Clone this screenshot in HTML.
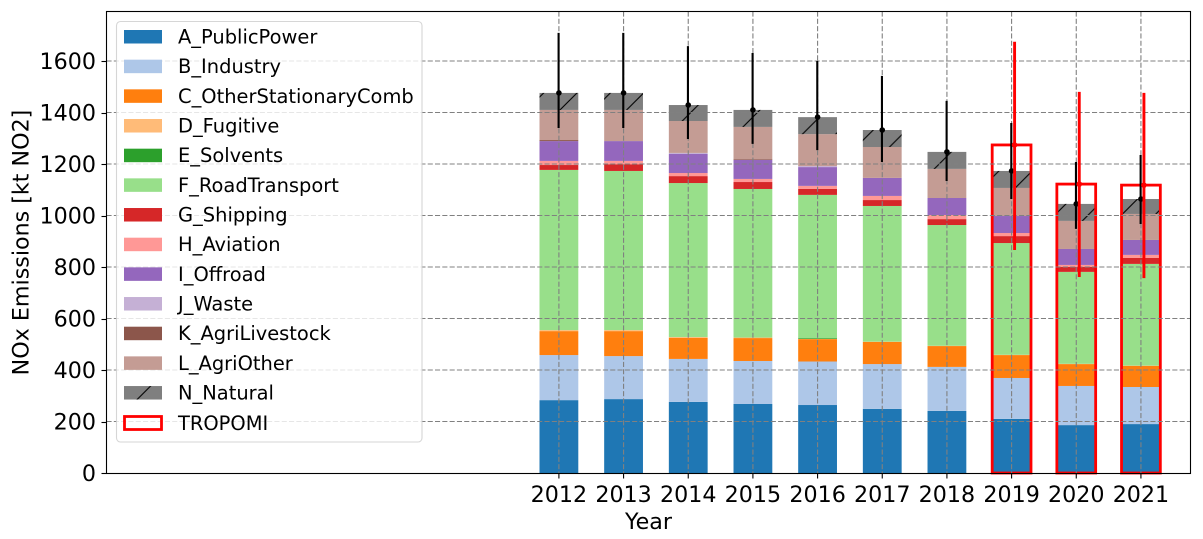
<!DOCTYPE html>
<html>
<head>
<meta charset="utf-8">
<title>NOx Emissions</title>
<style>
html,body{margin:0;padding:0;background:#fff;width:1203px;height:539px;overflow:hidden}
svg{display:block}
text{font-family:"DejaVu Sans","Liberation Sans",sans-serif;fill:#000}
</style>
</head>
<body>
<svg id="chart" width="1203" height="539" viewBox="0 0 1203 539" xmlns="http://www.w3.org/2000/svg">
<defs>
<pattern id="hatch" patternUnits="userSpaceOnUse" width="33.33" height="33.33" patternTransform="translate(3.33,0)">
<line x1="-1" y1="34.33" x2="34.33" y2="-1" stroke="#000" stroke-width="1.1"/>
<line x1="-1" y1="1" x2="1" y2="-1" stroke="#000" stroke-width="1.1"/>
<line x1="32.33" y1="34.33" x2="34.33" y2="32.33" stroke="#000" stroke-width="1.1"/>
</pattern>
</defs>
<text transform="translate(28.5,242.5) rotate(-90)" text-anchor="middle" font-size="22.2">NOx Emissions [kt NO2]</text>
<text x="648.5" y="529" text-anchor="middle" font-size="22.2">Year</text>
</svg>
<script>
const years = [2012, 2013, 2014, 2015, 2016, 2017, 2018, 2019, 2020, 2021];
const yTicks = [0, 200, 400, 600, 800, 1000, 1200, 1400, 1600];

const aPublicPower = [283, 287, 276, 268, 264, 249, 241, 210, 186, 190];
const bIndustry = [175, 167, 167, 167, 169, 174, 171, 159, 152, 144];
const cOtherStationaryComb = [93, 97, 82, 89, 87, 86, 81, 89, 85, 82];
const dFugitive = [4, 4, 3, 2, 1, 1, 1, 1, 1, 1];
const eSolvents = [0, 0, 0, 0, 3, 0, 0, 0, 0, 0];
const fRoadTransport = [622, 618, 598, 577, 556, 527, 469, 434, 357, 395];
const gShipping = [19, 26, 27, 27, 23, 23, 23, 27, 19, 23];
const hAviation = [16, 13, 12, 12, 12, 16, 16, 12, 8, 12];
const iOffroad = [77, 77, 74, 74, 73, 70, 66, 66, 62, 58];
const jWaste = [0, 0, 4, 0, 4, 0, 0, 0, 0, 0];
const kAgriLivestock = [4, 0, 0, 3, 0, 0, 0, 0, 0, 0];
const lAgriOther = [117, 121, 124, 125, 124, 120, 113, 109, 109, 101];
const nNatural = [66, 66, 62, 66, 66, 66, 66, 66, 66, 58];

const errLow = [1340, 1340, 1297, 1278, 1254, 1208, 1134, 1064, 948, 967];
const errHigh = [1709, 1709, 1658, 1631, 1600, 1542, 1445, 1359, 1208, 1235];

const tropomiYears = [2019, 2020, 2021];
const tropomiValues = [1274, 1122, 1118];
const tropomiLow = [866, 761, 757];
const tropomiHigh = [1675, 1480, 1476];

const sectorNames = ['A_PublicPower', 'B_Industry', 'C_OtherStationaryComb', 'D_Fugitive', 'E_Solvents', 'F_RoadTransport', 'G_Shipping', 'H_Aviation', 'I_Offroad', 'J_Waste', 'K_AgriLivestock', 'L_AgriOther', 'N_Natural'];
const sectorColors = ['#1f77b4', '#aec7e8', '#ff7f0e', '#ffbb78', '#2ca02c', '#98df8a', '#d62728', '#ff9896', '#9467bd', '#c5b0d5', '#8c564b', '#c49c94', '#7f7f7f'];
const sectorValues = [aPublicPower, bIndustry, cOtherStationaryComb, dFugitive, eSolvents, fRoadTransport, gShipping, hAviation, iOffroad, jWaste, kAgriLivestock, lAgriOther, nNatural];

const svg = document.getElementById('chart');
const NS = 'http://www.w3.org/2000/svg';
const AX = {l: 106.5, r: 1190.5, t: 11.5, b: 473.5};
const xScale = function (yr) { return 558.9 + (yr - 2012) * 64.67; };
const yScale = function (v) { return 473 - v * 0.2575; };
const barWidth = 0.6 * 64.67;

function mk(tag, attrs) {
  const el = document.createElementNS(NS, tag);
  for (const k in attrs) el.setAttribute(k, attrs[k]);
  svg.appendChild(el);
  return el;
}

// stacked bars
years.forEach(function (yr, i) {
  let base = 0;
  sectorValues.forEach(function (vals, s) {
    const v = vals[i];
    if (v <= 0) return;
    const top = base + v;
    const r = mk('rect', {x: xScale(yr) - barWidth / 2, y: yScale(top), width: barWidth, height: yScale(base) - yScale(top), fill: sectorColors[s]});
    
    
    if (s === sectorNames.length - 1) {
      const h = mk('rect', {x: xScale(yr) - barWidth / 2, y: yScale(top), width: barWidth, height: yScale(base) - yScale(top), fill: 'url(#hatch)'});
      
      
    }
    base = top;
  });
});

// TROPOMI outline boxes
tropomiYears.forEach(function (yr, i) {
  const b = mk('rect', {x: xScale(yr) - barWidth / 2, y: yScale(tropomiValues[i]), width: barWidth, height: yScale(0) - yScale(tropomiValues[i]), fill: 'none', stroke: '#ff0000', 'stroke-width': 2.8});
  
  
});

// gridlines
yTicks.forEach(function (t) {
  if (t === 0) return;
  const g = mk('line', {x1: AX.l, x2: AX.r, y1: yScale(t), y2: yScale(t), stroke: '#808080', 'stroke-width': 1.1, 'stroke-dasharray': '5.1,2.2'});
  
  
});
years.forEach(function (yr) {
  const g = mk('line', {x1: xScale(yr), x2: xScale(yr), y1: AX.t, y2: AX.b, stroke: '#808080', 'stroke-width': 1.1, 'stroke-dasharray': '5.1,2.2'});
  
  
});

// inventory error bars
years.forEach(function (yr, i) {
  let total = 0;
  sectorValues.forEach(function (vals) { total += vals[i]; });
  const e = mk('line', {x1: xScale(yr) - 0.3, x2: xScale(yr) - 0.3, y1: yScale(errLow[i]), y2: yScale(errHigh[i]), stroke: '#000', 'stroke-width': 2.1});
  
  
  const c = mk('circle', {cx: xScale(yr), cy: yScale(total), r: 2.8, fill: '#000'});
  
  
});

// TROPOMI error bars
tropomiYears.forEach(function (yr, i) {
  const e = mk('line', {x1: xScale(yr) + 3, x2: xScale(yr) + 3, y1: yScale(tropomiLow[i]), y2: yScale(tropomiHigh[i]), stroke: '#ff0000', 'stroke-width': 2.9});
  
  
  const c = mk('circle', {cx: xScale(yr) + 3, cy: yScale(tropomiValues[i]), r: 2.8, fill: '#ff0000'});
  
  
});

// axes frame
const frame = mk('rect', {x: AX.l, y: AX.t, width: AX.r - AX.l, height: AX.b - AX.t, fill: 'none', stroke: '#000', 'stroke-width': 1.1});



// ticks
yTicks.forEach(function (t) {
  const k = mk('line', {x1: AX.l - 5, x2: AX.l, y1: Math.round(yScale(t)) + 0.5, y2: Math.round(yScale(t)) + 0.5, stroke: '#000', 'stroke-width': 1.1});
  
  
  const l = mk('text', {x: 96, y: yScale(t) + 8.1, 'text-anchor': 'end', 'font-size': 22.2});
  
  
  l.textContent = t;
});
years.forEach(function (yr) {
  const k = mk('line', {x1: xScale(yr), x2: xScale(yr), y1: AX.b, y2: AX.b + 5, stroke: '#000', 'stroke-width': 1.1});
  
  
  const l = mk('text', {x: xScale(yr), y: 502, 'text-anchor': 'middle', 'font-size': 22.2});
  
  
  l.textContent = yr;
});

// legend
const legendBox = mk('rect', {x: 116.5, y: 21.5, width: 305.5, height: 420.5, rx: 4, ry: 4, fill: '#fff', 'fill-opacity': 0.8, stroke: '#cccccc', 'stroke-opacity': 0.8, 'stroke-width': 1.1});


sectorNames.forEach(function (name, s) {
  const cy = 37 + s * 29.67;
  const sw = mk('rect', {x: 124, y: cy - 7, width: 38, height: 13.5, fill: sectorColors[s]});
  
  
  if (s === sectorNames.length - 1) {
    const h = mk('rect', {x: 124, y: cy - 7, width: 38, height: 13.5, fill: 'url(#hatch)'});
    
    
  }
  const t = mk('text', {x: 178, y: cy + 6.5, 'font-size': 19.45});
  
  
  t.textContent = name;
});
const tropSw = mk('rect', {x: 124.5, y: 416.5, width: 37, height: 13, fill: 'none', stroke: '#ff0000', 'stroke-width': 2.8});


const tropText = mk('text', {x: 178, y: 430, 'font-size': 19.45});


tropText.textContent = 'TROPOMI';
</script>
</body>
</html>
